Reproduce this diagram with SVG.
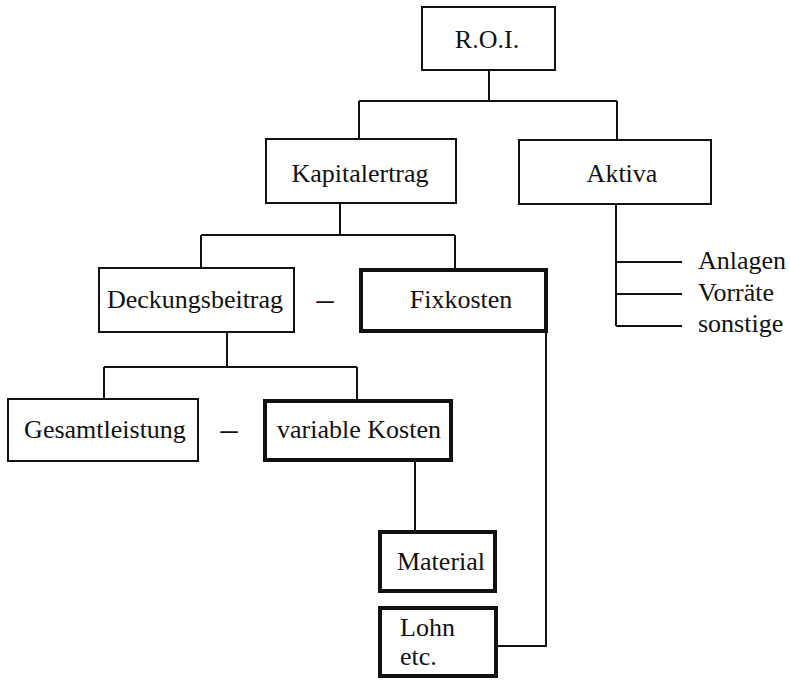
<svg xmlns="http://www.w3.org/2000/svg" width="790" height="680" viewBox="0 0 790 680">
  <style>
    .box { fill: #fff; stroke: #111; stroke-width: 2; }
    .box.heavy { stroke-width: 4; }
    .lbl { font-family: "Liberation Serif", "Times New Roman", serif; font-size: 26px; fill: #111; }
    .mid { text-anchor: middle; }
    .dash { font-size: 34px; }
    .wire { fill: none; stroke: #111; stroke-width: 2; }
  </style>
  <rect width="790" height="680" fill="#fff"/>

  <!-- tree connectors -->
  <g id="connectors" class="wire">
    <path d="M489 71 V101 M359 101 H617 M359 101 V139 M617 101 V140"/>
    <path d="M340 204 V235 M201 235 H455 M201 235 V268 M455 235 V270"/>
    <path d="M616 205 V326 M616 262 H682 M616 294 H682 M616 326 H682"/>
    <path d="M227 333 V367 M104 367 H357 M104 367 V399 M357 367 V401"/>
    <path d="M415 462 V532"/>
    <path d="M546 333 V646 H498"/>
  </g>

  <g id="roi">
    <rect class="box" x="422" y="7" width="133" height="63"/>
    <text class="lbl mid" x="487" y="48">R.O.I.</text>
  </g>
  <g id="kapitalertrag">
    <rect class="box" x="266" y="139" width="190" height="64"/>
    <text class="lbl mid" x="360" y="182">Kapitalertrag</text>
  </g>
  <g id="aktiva">
    <rect class="box" x="519" y="140" width="192" height="64"/>
    <text class="lbl mid" x="622" y="182">Aktiva</text>
  </g>
  <g id="aktiva-items">
    <text class="lbl" x="698" y="269">Anlagen</text>
    <text class="lbl" x="698" y="301">Vorräte</text>
    <text class="lbl" x="698" y="332">sonstige</text>
  </g>
  <g id="deckungsbeitrag">
    <rect class="box" x="99" y="268" width="195" height="64"/>
    <text class="lbl mid" x="195" y="308">Deckungsbeitrag</text>
  </g>
  <g id="minus-1">
    <text class="lbl dash mid" x="325" y="310">–</text>
  </g>
  <g id="fixkosten">
    <rect class="box heavy" x="361" y="270" width="185" height="61"/>
    <text class="lbl mid" x="461" y="308">Fixkosten</text>
  </g>
  <g id="gesamtleistung">
    <rect class="box" x="8" y="399" width="190" height="62"/>
    <text class="lbl mid" x="105" y="438">Gesamtleistung</text>
  </g>
  <g id="minus-2">
    <text class="lbl dash mid" x="229" y="440">–</text>
  </g>
  <g id="variable-kosten">
    <rect class="box heavy" x="265" y="401" width="186" height="59"/>
    <text class="lbl mid" x="359" y="438">variable Kosten</text>
  </g>
  <g id="material">
    <rect class="box heavy" x="380" y="532" width="115" height="59"/>
    <text class="lbl mid" x="441" y="570">Material</text>
  </g>
  <g id="lohn">
    <rect class="box heavy" x="380" y="608" width="116" height="68"/>
    <text class="lbl" x="400" y="636">Lohn</text>
    <text class="lbl" x="400" y="665">etc.</text>
  </g>
</svg>
